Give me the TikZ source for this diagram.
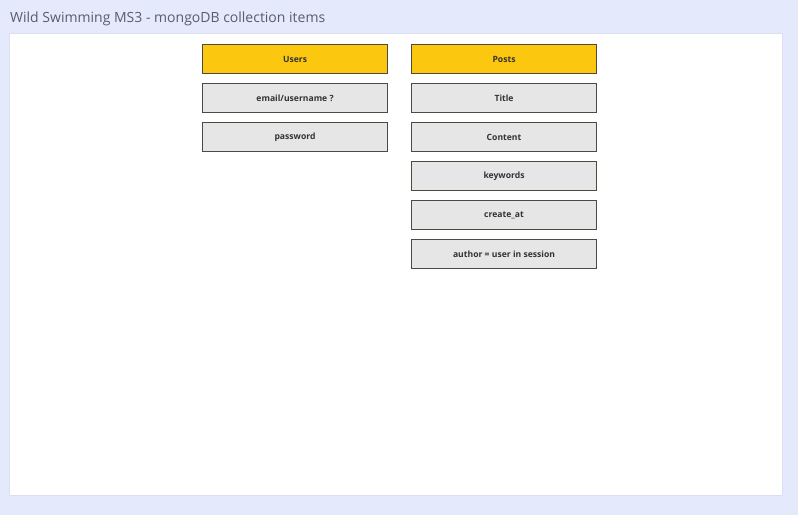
\documentclass[tikz,border=0pt]{standalone}
\usepackage{fontspec}
\setmainfont{Open Sans}
\definecolor{bgc}{HTML}{E5E9FC}
\definecolor{panelb}{HTML}{DCDFEF}
\definecolor{titlec}{HTML}{5A5C6E}
\definecolor{yel}{HTML}{FBC70F}
\definecolor{gry}{HTML}{E6E6E6}
\definecolor{bord}{HTML}{4E4A40}
\definecolor{txt}{HTML}{333333}
\begin{document}
\begin{tikzpicture}[x=1pt,y=-1pt,
  field/.style={draw=bord,line width=1.1pt,minimum width=185pt,minimum height=29pt,inner sep=0pt,
    font=\fontsize{8.6}{10}\selectfont\bfseries,text=txt,anchor=north west},
  headbox/.style={field,fill=yel},
  itembox/.style={field,fill=gry}]
\useasboundingbox (0,0) rectangle (798,515);
\fill[bgc] (0,0) rectangle (798,515);
\draw[panelb,fill=white,line width=0.8pt] (9,33) rectangle (782,495);
\node[anchor=west,text=titlec,font=\fontsize{14}{16}\selectfont,inner sep=0pt] (title) at (10,18.5) {Wild Swimming MS3 - mongoDB collection items};
\node[headbox] (users) at (202,44) {Users};
\node[itembox] (email) at (202,83) {email/username ?};
\node[itembox] (pw) at (202,122) {password};
\node[headbox] (posts) at (411,44) {Posts};
\node[itembox] (ptitle) at (411,83) {Title};
\node[itembox] (content) at (411,122) {Content};
\node[itembox] (kw) at (411,161) {keywords};
\node[itembox] (created) at (411,200) {create\_at};
\node[itembox] (author) at (411,239) {author = user in session};
\end{tikzpicture}
\end{document}
